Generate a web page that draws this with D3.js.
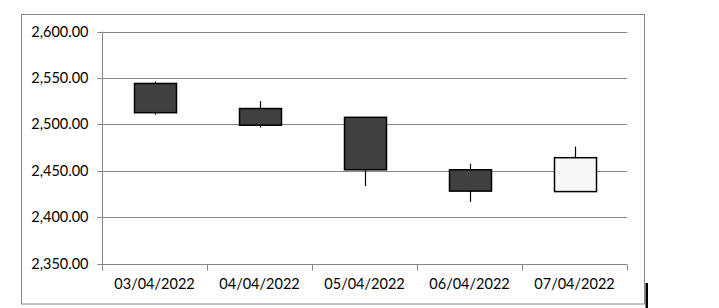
<!DOCTYPE html>
<html>
<head>
<meta charset="utf-8">
<script src="https://cdn.jsdelivr.net/npm/d3@7"></script>
<style>
  body { margin: 0; background: #fff; }
  svg { display: block; }
  .axis text { font-family: Lato, "Open Sans", sans-serif; font-size: 14.5px; fill: #000; }
  .axis path, .axis line { stroke: #868686; }
</style>
</head>
<body>
<div id="chart"></div>
<script>
// values
const dates = ["03/04/2022", "04/04/2022", "05/04/2022", "06/04/2022", "07/04/2022"];
const openVals = [2544, 2517, 2507.5, 2451, 2427.5];
const highVals = [2546, 2525, 2507.5, 2457.5, 2476];
const lowVals = [2510.5, 2496.5, 2433.5, 2416.5, 2427.5];
const closeVals = [2512.5, 2499, 2451, 2428, 2464];
const yTicks = [2350, 2400, 2450, 2500, 2550, 2600];

const width = 719, height = 308;
const margin = { top: 31.5, right: 92, bottom: 45, left: 102 };

const svg = d3.select("#chart").append("svg")
  .attr("width", width)
  .attr("height", height);

// outer chart frame
svg.append("rect")
  .attr("x", 21.5).attr("y", 14.5)
  .attr("width", 623).attr("height", 289.5)
  .attr("fill", "#fff")
  .attr("stroke", "#868686");

// small black mark at the lower right edge
svg.append("rect")
  .attr("x", 645.5).attr("y", 283)
  .attr("width", 2.5).attr("height", 25)
  .attr("fill", "#000");

const data = dates.map((d, i) => ({
  date: d, open: openVals[i], high: highVals[i], low: lowVals[i], close: closeVals[i]
}));

const x = d3.scaleBand()
  .domain(dates)
  .range([margin.left, 627]);

const y = d3.scaleLinear()
  .domain([2350, 2600])
  .range([263.5, margin.top]);

// gridlines
svg.append("g")
  .selectAll("line")
  .data(yTicks.slice(1))
  .join("line")
  .attr("x1", margin.left).attr("x2", 627)
  .attr("y1", d => Math.round(y(d)) + 0.5)
  .attr("y2", d => Math.round(y(d)) + 0.5)
  .attr("stroke", "#868686");

const yAxis = d3.axisLeft(y)
  .tickValues(yTicks)
  .tickSize(5)
  .tickPadding(9)
  .tickFormat(d3.format(",.2f"));

svg.append("g")
  .attr("class", "axis yAxis")
  .attr("transform", `translate(${margin.left + 0.5},0)`)
  .call(yAxis)
  .call(g => g.select(".domain").attr("d", `M0,${y(2600)}V${y(2350)}`))
  .selectAll(".tick")
  .attr("transform", d => `translate(0,${Math.round(y(d)) + 0.5})`);

const xAxis = d3.axisBottom(x).tickSize(0).tickPadding(14);

const xg = svg.append("g")
  .attr("class", "axis xAxis")
  .attr("transform", `translate(0,${Math.round(y(2350)) + 0.5})`)
  .call(xAxis);
xg.select(".domain").attr("d", `M${margin.left},0H627`);

// category boundary ticks
xg.selectAll("line.boundary")
  .data(dates.concat(["end"]))
  .join("line")
  .attr("class", "boundary")
  .attr("x1", (d, i) => Math.round(margin.left + i * x.step()) + 0.5)
  .attr("x2", (d, i) => Math.round(margin.left + i * x.step()) + 0.5)
  .attr("y1", 0).attr("y2", 6);

const bodyW = 42;

const candles = svg.append("g")
  .selectAll("g")
  .data(data)
  .join("g");

candles.append("line")
  .attr("x1", d => Math.round(x(d.date) + x.bandwidth() / 2) + 0.5)
  .attr("x2", d => Math.round(x(d.date) + x.bandwidth() / 2) + 0.5)
  .attr("y1", d => y(d.high))
  .attr("y2", d => y(d.low))
  .attr("stroke", "#000")
  .attr("stroke-width", 1.2);

candles.append("rect")
  .attr("x", d => Math.round(x(d.date) + x.bandwidth() / 2 - bodyW / 2) + 0.5)
  .attr("y", d => y(Math.max(d.open, d.close)))
  .attr("width", bodyW)
  .attr("height", d => y(Math.min(d.open, d.close)) - y(Math.max(d.open, d.close)))
  .attr("fill", d => d.close < d.open ? "#404040" : "#f8f8f8")
  .attr("stroke", "#000")
  .attr("stroke-width", 1.5);
</script>
</body>
</html>
